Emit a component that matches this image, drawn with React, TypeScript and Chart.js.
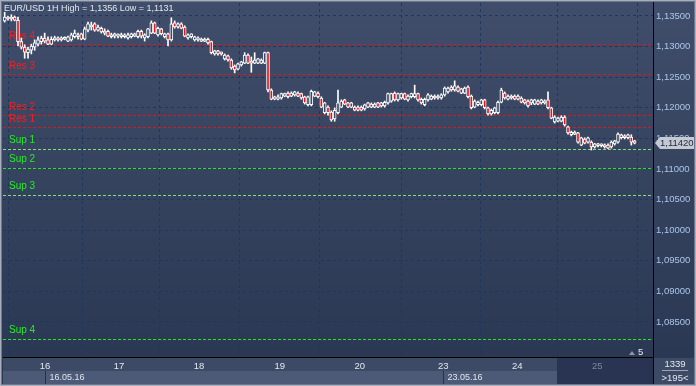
import React, { useEffect, useRef } from 'react';
import { Chart, registerables } from 'chart.js';

Chart.register(...registerables);

// ---------- DATA ----------
const opens = [
  1.1342, 1.1348, 1.1345, 1.1348, 1.1343, 1.1308, 1.1299, 1.1290, 1.1294, 1.1299,
  1.1304, 1.1308, 1.1314, 1.1311, 1.1304, 1.1311, 1.1314, 1.1311, 1.1312, 1.1309,
  1.1311, 1.1316, 1.1316, 1.1321, 1.1312, 1.1327, 1.1332, 1.1337, 1.1327, 1.1330,
  1.1322, 1.1325, 1.1316, 1.1317, 1.1317, 1.1319, 1.1316, 1.1314, 1.1316, 1.1317,
  1.1316, 1.1325, 1.1314, 1.1316, 1.1322, 1.1339, 1.1319, 1.1329, 1.1316, 1.1321,
  1.1311, 1.1339, 1.1332, 1.1337, 1.1332, 1.1314, 1.1316, 1.1311, 1.1311, 1.1309,
  1.1309, 1.1312, 1.1308, 1.1288, 1.1293, 1.1288, 1.1280, 1.1285, 1.1278, 1.1268,
  1.1263, 1.1270, 1.1273, 1.1286, 1.1276, 1.1273, 1.1273, 1.1273, 1.1273, 1.1290,
  1.1229, 1.1214, 1.1214, 1.1216, 1.1219, 1.1224, 1.1219, 1.1221, 1.1224, 1.1223,
  1.1218, 1.1205, 1.1205, 1.1219, 1.1224, 1.1216, 1.1192, 1.1201, 1.1193, 1.1182,
  1.1192, 1.1201, 1.1213, 1.1208, 1.1201, 1.1201, 1.1201, 1.1201, 1.1198, 1.1201,
  1.1206, 1.1201, 1.1208, 1.1203, 1.1203, 1.1208, 1.1211, 1.1224, 1.1213, 1.1216,
  1.1223, 1.1213, 1.1218, 1.1218, 1.1223, 1.1214, 1.1205, 1.1213, 1.1214, 1.1219,
  1.1216, 1.1216, 1.1221, 1.1226, 1.1234, 1.1229, 1.1234, 1.1224, 1.1224, 1.1234,
  1.1219, 1.1201, 1.1205, 1.1205, 1.1213, 1.1200, 1.1190, 1.1192, 1.1192, 1.1209,
  1.1224, 1.1214, 1.1216, 1.1219, 1.1214, 1.1216, 1.1213, 1.1211, 1.1208, 1.1206,
  1.1211, 1.1208, 1.1208, 1.1213, 1.1200, 1.1177, 1.1178, 1.1178, 1.1185, 1.1169,
  1.1156, 1.1160, 1.1159, 1.1139, 1.1149, 1.1144, 1.1144, 1.1136, 1.1138, 1.1138,
  1.1139, 1.1139, 1.1136, 1.1141, 1.1144, 1.1156, 1.1154, 1.1151, 1.1152, 1.1146,
];
const highs = [
  1.1356, 1.1350, 1.1352, 1.1350, 1.1348, 1.1314, 1.1303, 1.1299, 1.1304, 1.1311,
  1.1316, 1.1317, 1.1322, 1.1316, 1.1316, 1.1317, 1.1316, 1.1316, 1.1316, 1.1317,
  1.1322, 1.1327, 1.1322, 1.1322, 1.1332, 1.1340, 1.1340, 1.1339, 1.1335, 1.1332,
  1.1329, 1.1327, 1.1322, 1.1322, 1.1321, 1.1322, 1.1321, 1.1322, 1.1322, 1.1322,
  1.1327, 1.1327, 1.1321, 1.1330, 1.1342, 1.1340, 1.1332, 1.1330, 1.1322, 1.1322,
  1.1347, 1.1342, 1.1339, 1.1339, 1.1334, 1.1321, 1.1321, 1.1317, 1.1316, 1.1314,
  1.1314, 1.1314, 1.1309, 1.1294, 1.1294, 1.1291, 1.1288, 1.1286, 1.1280, 1.1270,
  1.1273, 1.1276, 1.1290, 1.1288, 1.1283, 1.1290, 1.1281, 1.1280, 1.1291, 1.1291,
  1.1231, 1.1219, 1.1221, 1.1224, 1.1224, 1.1226, 1.1226, 1.1227, 1.1226, 1.1224,
  1.1219, 1.1219, 1.1229, 1.1227, 1.1226, 1.1218, 1.1209, 1.1203, 1.1195, 1.1200,
  1.1229, 1.1213, 1.1214, 1.1209, 1.1209, 1.1203, 1.1203, 1.1203, 1.1206, 1.1209,
  1.1208, 1.1208, 1.1209, 1.1209, 1.1211, 1.1224, 1.1224, 1.1226, 1.1224, 1.1224,
  1.1224, 1.1221, 1.1224, 1.1237, 1.1224, 1.1216, 1.1216, 1.1223, 1.1221, 1.1221,
  1.1221, 1.1223, 1.1234, 1.1234, 1.1236, 1.1244, 1.1236, 1.1232, 1.1234, 1.1236,
  1.1221, 1.1213, 1.1211, 1.1214, 1.1214, 1.1201, 1.1198, 1.1201, 1.1211, 1.1232,
  1.1226, 1.1221, 1.1221, 1.1221, 1.1221, 1.1218, 1.1214, 1.1213, 1.1214, 1.1214,
  1.1213, 1.1214, 1.1213, 1.1226, 1.1201, 1.1187, 1.1185, 1.1187, 1.1187, 1.1170,
  1.1162, 1.1162, 1.1160, 1.1152, 1.1151, 1.1152, 1.1146, 1.1142, 1.1142, 1.1141,
  1.1141, 1.1141, 1.1146, 1.1147, 1.1159, 1.1157, 1.1156, 1.1157, 1.1156, 1.1147,
];
const lows = [
  1.1340, 1.1343, 1.1342, 1.1342, 1.1301, 1.1296, 1.1281, 1.1281, 1.1288, 1.1294,
  1.1301, 1.1304, 1.1306, 1.1303, 1.1303, 1.1309, 1.1309, 1.1309, 1.1311, 1.1308,
  1.1309, 1.1314, 1.1312, 1.1311, 1.1311, 1.1324, 1.1327, 1.1325, 1.1325, 1.1322,
  1.1319, 1.1316, 1.1314, 1.1314, 1.1314, 1.1314, 1.1314, 1.1312, 1.1314, 1.1316,
  1.1314, 1.1314, 1.1309, 1.1314, 1.1321, 1.1321, 1.1317, 1.1319, 1.1314, 1.1301,
  1.1309, 1.1330, 1.1330, 1.1329, 1.1316, 1.1312, 1.1314, 1.1309, 1.1309, 1.1308,
  1.1308, 1.1304, 1.1288, 1.1286, 1.1286, 1.1286, 1.1278, 1.1276, 1.1263, 1.1257,
  1.1262, 1.1268, 1.1272, 1.1272, 1.1258, 1.1272, 1.1272, 1.1272, 1.1272, 1.1226,
  1.1213, 1.1213, 1.1213, 1.1214, 1.1218, 1.1216, 1.1218, 1.1219, 1.1218, 1.1214,
  1.1206, 1.1203, 1.1203, 1.1218, 1.1216, 1.1200, 1.1190, 1.1188, 1.1178, 1.1178,
  1.1190, 1.1200, 1.1205, 1.1200, 1.1200, 1.1195, 1.1195, 1.1195, 1.1196, 1.1200,
  1.1200, 1.1200, 1.1200, 1.1201, 1.1201, 1.1206, 1.1209, 1.1211, 1.1211, 1.1214,
  1.1213, 1.1211, 1.1216, 1.1216, 1.1211, 1.1206, 1.1203, 1.1211, 1.1213, 1.1214,
  1.1214, 1.1214, 1.1219, 1.1224, 1.1227, 1.1227, 1.1226, 1.1223, 1.1223, 1.1216,
  1.1198, 1.1200, 1.1203, 1.1203, 1.1198, 1.1188, 1.1188, 1.1190, 1.1190, 1.1208,
  1.1214, 1.1213, 1.1214, 1.1213, 1.1213, 1.1208, 1.1206, 1.1201, 1.1205, 1.1205,
  1.1205, 1.1206, 1.1206, 1.1198, 1.1182, 1.1175, 1.1177, 1.1177, 1.1170, 1.1157,
  1.1154, 1.1156, 1.1142, 1.1138, 1.1141, 1.1142, 1.1131, 1.1134, 1.1136, 1.1136,
  1.1134, 1.1133, 1.1134, 1.1139, 1.1142, 1.1149, 1.1149, 1.1149, 1.1139, 1.1141,
];
const closes = [
  1.1348, 1.1345, 1.1348, 1.1343, 1.1308, 1.1299, 1.1291, 1.1296, 1.1301, 1.1306,
  1.1311, 1.1314, 1.1309, 1.1304, 1.1312, 1.1314, 1.1311, 1.1314, 1.1314, 1.1316,
  1.1319, 1.1322, 1.1319, 1.1312, 1.1329, 1.1337, 1.1335, 1.1327, 1.1332, 1.1324,
  1.1325, 1.1317, 1.1319, 1.1321, 1.1319, 1.1316, 1.1319, 1.1319, 1.1321, 1.1321,
  1.1325, 1.1317, 1.1319, 1.1329, 1.1339, 1.1322, 1.1330, 1.1321, 1.1321, 1.1311,
  1.1337, 1.1332, 1.1337, 1.1330, 1.1317, 1.1319, 1.1321, 1.1316, 1.1314, 1.1312,
  1.1312, 1.1306, 1.1290, 1.1293, 1.1288, 1.1290, 1.1286, 1.1278, 1.1265, 1.1262,
  1.1272, 1.1275, 1.1286, 1.1273, 1.1273, 1.1278, 1.1280, 1.1278, 1.1290, 1.1229,
  1.1214, 1.1218, 1.1218, 1.1223, 1.1223, 1.1218, 1.1224, 1.1226, 1.1219, 1.1216,
  1.1208, 1.1218, 1.1227, 1.1226, 1.1218, 1.1201, 1.1208, 1.1192, 1.1180, 1.1196,
  1.1208, 1.1211, 1.1206, 1.1201, 1.1208, 1.1196, 1.1196, 1.1196, 1.1205, 1.1208,
  1.1201, 1.1206, 1.1201, 1.1208, 1.1209, 1.1223, 1.1223, 1.1213, 1.1223, 1.1223,
  1.1214, 1.1219, 1.1223, 1.1223, 1.1213, 1.1208, 1.1214, 1.1221, 1.1219, 1.1216,
  1.1219, 1.1221, 1.1232, 1.1232, 1.1229, 1.1236, 1.1227, 1.1231, 1.1232, 1.1218,
  1.1200, 1.1211, 1.1209, 1.1213, 1.1200, 1.1190, 1.1196, 1.1200, 1.1209, 1.1229,
  1.1216, 1.1219, 1.1219, 1.1214, 1.1219, 1.1209, 1.1208, 1.1203, 1.1213, 1.1213,
  1.1206, 1.1213, 1.1211, 1.1200, 1.1183, 1.1185, 1.1183, 1.1185, 1.1172, 1.1159,
  1.1160, 1.1157, 1.1144, 1.1151, 1.1142, 1.1151, 1.1136, 1.1141, 1.1141, 1.1139,
  1.1136, 1.1134, 1.1144, 1.1146, 1.1157, 1.1151, 1.1151, 1.1156, 1.1144, 1.1142,
];

const visibleBars = 195;
const dayPositions = [12.1, 34.3, 58.3, 82.5, 106.5, 131.6, 153.8, 177.8];
const dayLabels = ['16', '17', '18', '19', '20', '23', '24', '25'];
const datePositions = [12.1, 131.6];
const dateLabels = ['16.05.16', '23.05.16'];
const yTicks = [1.085, 1.09, 1.095, 1.1, 1.105, 1.11, 1.115, 1.12, 1.125, 1.13, 1.135];
const yMin = 1.07928;
const yMax = 1.13712;
const resLevels = [1.1168, 1.1188, 1.1255, 1.1304];
const resNames = ['Res 1', 'Res 2', 'Res 3', 'Res 4'];
const supLevels = [1.1132, 1.1101, 1.1057, 1.0823];
const supNames = ['Sup 1', 'Sup 2', 'Sup 3', 'Sup 4'];
const supColors = ['#7fe07f', '#1ee81e', '#7fe07f', '#1ee81e'];
const titleText = 'EUR/USD 1H High = 1,1356 Low = 1,1131';
const barCountText = '1339';
const visibleText = '>195<';

const FONT = '"Liberation Sans", Arial, sans-serif';
const fmt = (v: number) => v.toFixed(5).replace('.', ',');

const decorPlugin = {
  id: 'decor',
  beforeDraw(chart: any) {
    const ctx = chart.ctx;
    const W = chart.width;
    const H = chart.height;
    ctx.save();
    const g = ctx.createLinearGradient(0, 0, 0, 357);
    g.addColorStop(0, '#404e6b');
    g.addColorStop(1, '#2b3853');
    ctx.fillStyle = g;
    ctx.fillRect(0, 0, W, H);
    ctx.fillStyle = '#3d4a66';
    ctx.fillRect(3, 358, 650, 13);
    ctx.fillStyle = '#4c5a77';
    ctx.fillRect(3, 371, 554, 13);
    ctx.fillStyle = '#283451';
    ctx.fillRect(557, 358, 96, 26);
    ctx.fillStyle = '#3d4a66';
    ctx.fillRect(654, 358, 40, 26);
    const xs = chart.scales.x;
    ctx.font = '9px ' + FONT;
    ctx.textBaseline = 'middle';
    ctx.textAlign = 'left';
    datePositions.forEach((p, i) => {
      const px = Math.round(xs.getPixelForValue(p)) + 0.5;
      ctx.strokeStyle = '#243049';
      ctx.lineWidth = 1;
      ctx.beginPath();
      ctx.moveTo(px, 371);
      ctx.lineTo(px, 384);
      ctx.stroke();
      ctx.fillStyle = '#dfe3ea';
      ctx.fillText(dateLabels[i], px + 4, 377.5);
    });
    ctx.restore();
  },
  beforeDatasetsDraw(chart: any) {
    const ctx = chart.ctx;
    const ys = chart.scales.y;
    const { left, right, top, bottom } = chart.chartArea;
    ctx.save();
    ctx.beginPath();
    ctx.rect(left, top, right - left, bottom - top);
    ctx.clip();
    ctx.lineWidth = 1;
    ctx.setLineDash([3, 2]);
    ctx.font = '10px ' + FONT;
    ctx.textAlign = 'left';
    ctx.textBaseline = 'alphabetic';
    resLevels.forEach((v) => {
      const py = Math.round(ys.getPixelForValue(v)) + 0.5;
      ctx.strokeStyle = '#d81818';
      ctx.beginPath();
      ctx.moveTo(left, py);
      ctx.lineTo(right, py);
      ctx.stroke();
    });
    supLevels.forEach((v, i) => {
      const py = Math.round(ys.getPixelForValue(v)) + 0.5;
      ctx.strokeStyle = supColors[i];
      ctx.beginPath();
      ctx.moveTo(left, py);
      ctx.lineTo(right, py);
      ctx.stroke();
    });
    resLevels.forEach((v, i) => {
      const py = Math.round(ys.getPixelForValue(v));
      ctx.fillStyle = '#ff1c1c';
      ctx.fillText(resNames[i], 9, py - 5);
    });
    supLevels.forEach((v, i) => {
      const py = Math.round(ys.getPixelForValue(v));
      ctx.fillStyle = '#22ee22';
      ctx.fillText(supNames[i], 9, py - 6);
    });
    ctx.restore();
  },
  afterDraw(chart: any) {
    const ctx = chart.ctx;
    const W = chart.width;
    const H = chart.height;
    const ys = chart.scales.y;
    ctx.save();
    ctx.strokeStyle = '#000000';
    ctx.lineWidth = 1;
    ctx.beginPath();
    ctx.moveTo(653.5, 0);
    ctx.lineTo(653.5, H);
    ctx.moveTo(3, 357.5);
    ctx.lineTo(653, 357.5);
    ctx.stroke();
    ctx.font = '9px ' + FONT;
    ctx.fillStyle = '#e2e6ee';
    ctx.textAlign = 'left';
    ctx.textBaseline = 'middle';
    ctx.fillText(titleText, 4, 9);
    const last = closes[closes.length - 1];
    const py = Math.round(ys.getPixelForValue(last));
    ctx.fillStyle = '#c5c9d1';
    ctx.beginPath();
    ctx.moveTo(655, py);
    ctx.lineTo(660, py - 6);
    ctx.lineTo(694, py - 6);
    ctx.lineTo(694, py + 6);
    ctx.lineTo(660, py + 6);
    ctx.closePath();
    ctx.fill();
    ctx.fillStyle = '#1a2740';
    ctx.font = '9.5px ' + FONT;
    ctx.fillText(fmt(last), 660, py + 0.5);
    ctx.textAlign = 'center';
    ctx.fillStyle = '#e4e8ee';
    ctx.fillText(barCountText, 675, 364);
    ctx.fillText(visibleText, 675, 378);
    ctx.strokeStyle = '#9aa3b3';
    ctx.beginPath();
    ctx.moveTo(662, 370.5);
    ctx.lineTo(688, 370.5);
    ctx.stroke();
    ctx.fillStyle = '#8d97a8';
    ctx.beginPath();
    ctx.moveTo(629, 355);
    ctx.lineTo(632, 351);
    ctx.lineTo(635, 355);
    ctx.closePath();
    ctx.fill();
    ctx.fillStyle = '#e8ecf2';
    ctx.textAlign = 'left';
    ctx.fillText('5', 638, 352);
    ctx.strokeStyle = '#a8afbc';
    ctx.strokeRect(0.5, 0.5, W - 1, H - 1);
    ctx.strokeStyle = '#6d788c';
    ctx.strokeRect(1.5, 1.5, W - 3, H - 3);
    ctx.restore();
  },
};

export default function App() {
  const ref = useRef<HTMLCanvasElement | null>(null);
  useEffect(() => {
    document.body.style.margin = '0';
    const canvas = ref.current;
    if (!canvas) return;
    const bodies = opens.map((o, i) => ({ x: i, y: [o, closes[i]] }));
    const wicks = lows.map((l, i) => ({ x: i, y: [l, highs[i]] }));
    const bodyColors = opens.map((o, i) => (closes[i] >= o ? '#3c4a66' : '#e8141c'));
    const chart = new Chart(canvas, {
      type: 'bar',
      data: {
        datasets: [
          {
            label: 'body',
            data: bodies as any,
            backgroundColor: bodyColors,
            borderColor: '#ffffff',
            borderWidth: 1,
            borderSkipped: false,
            barThickness: 3,
            minBarLength: 2,
            grouped: false,
            order: 0,
          } as any,
          {
            label: 'wick',
            data: wicks as any,
            backgroundColor: '#ffffff',
            borderWidth: 0,
            barThickness: 1,
            grouped: false,
            order: 1,
          } as any,
        ],
      },
      options: {
        animation: false,
        responsive: false,
        devicePixelRatio: 1,
        layout: { padding: { left: 3, top: 3, right: 0, bottom: 0 } },
        plugins: { legend: { display: false }, tooltip: { enabled: false } },
        scales: {
          x: {
            type: 'linear',
            min: -0.5,
            max: visibleBars - 0.5,
            offset: false,
            afterBuildTicks: (s: any) => {
              s.ticks = dayPositions.map((v) => ({ value: v }));
            },
            afterFit: (s: any) => {
              s.height = 29;
              s.paddingLeft = 0;
              s.paddingRight = 0;
            },
            grid: { color: '#1d3761', lineWidth: 1, drawTicks: false },
            border: { display: false, dash: [3, 3] },
            ticks: {
              autoSkip: false,
              maxRotation: 0,
              padding: 4,
              font: { family: FONT, size: 9.5 },
              color: (c: any) => (c.index === dayLabels.length - 1 ? '#7c879b' : '#e2e6ee'),
              callback: (_v: any, i: number) => dayLabels[i],
            },
          },
          y: {
            type: 'linear',
            position: 'right',
            min: yMin,
            max: yMax,
            afterBuildTicks: (s: any) => {
              s.ticks = yTicks.map((v) => ({ value: v }));
            },
            afterFit: (s: any) => {
              s.width = 43;
              s.paddingTop = 0;
              s.paddingBottom = 0;
            },
            grid: { color: '#1d3761', lineWidth: 1, drawTicks: false },
            border: { display: false, dash: [3, 3] },
            ticks: {
              padding: 3,
              font: { family: FONT, size: 9.5 },
              color: '#a9c6ea',
              callback: (v: any) => fmt(Number(v)),
            },
          },
        },
      },
      plugins: [decorPlugin],
    });
    return () => chart.destroy();
  }, []);
  return (
    <div style={{ width: 696, height: 386 }}>
      <canvas ref={ref} width={696} height={386} style={{ display: 'block' }} />
    </div>
  );
}
